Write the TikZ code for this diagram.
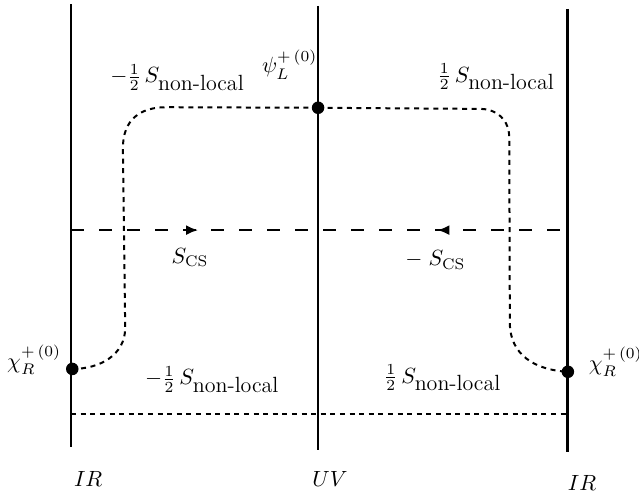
\RequirePackage{fix-cm}
\documentclass[tikz,border=0pt]{standalone}
\usepackage{amsmath,amssymb}
\usepackage{tikz}
\usetikzlibrary{arrows.meta,decorations.markings}

\begin{document}
\begin{tikzpicture}[
        every node/.style={font=\fontsize{11}{13.5}\selectfont},
        brane/.style={line width=1.2pt},
        cslink/.style={line width=1.2pt, dash pattern=on 6.5pt off 7.5pt},
        nllink/.style={line width=1pt, dash pattern=on 2.5pt off 2.3pt},
        field/.style={circle, fill=black, inner sep=0pt, minimum size=0.22cm},
        act/.style={anchor=base, inner sep=0pt}
      ]
        \useasboundingbox (0,0) rectangle (11.23,8.734);
        % Branes: IR -- UV -- IR
        \coordinate (irLtop) at (1.25,8.66);
        \coordinate (irLbot) at (1.25,0.88);
        \coordinate (uvtop) at (5.59,8.63);
        \coordinate (uvbot) at (5.59,0.83);
        \coordinate (irRtop) at (9.97,8.58);
        \coordinate (irRbot) at (9.97,0.79);
        \draw[brane] (irLtop) -- (irLbot);
        \draw[brane] (uvtop) -- (uvbot);
        \draw[brane] (irRtop) -- (irRbot);
        \node (irL) at (1.55,0.32) {$IR$};
        \node (uv) at (5.80,0.31) {$UV$};
        \node (irR) at (10.23,0.25) {$IR$};
        % Zero modes
        \node[field] (psi) at (5.59,6.84) {};
        \node[field] (chiL) at (1.27,2.25) {};
        \node[field] (chiR) at (9.98,2.20) {};
        \node (psilab) at (5.09,7.60) {$\psi_L^{+\,(0)}$};
        \node (chiLlab) at (0.60,2.41) {$\chi_R^{+\,(0)}$};
        \node[anchor=west, inner sep=0pt] (chiRlab) at (10.34,2.37) {$\chi_R^{+\,(0)}$};
        % Chern--Simons line
        \coordinate (csL) at (1.25,4.69);
        \coordinate (csR) at (9.97,4.69);
        \draw[cslink, postaction={decorate}, decoration={markings,
              mark=at position 0.256 with {\arrow{Latex[length=6pt,width=5pt]}},
              mark=at position 0.738 with {\arrowreversed{Latex[length=6pt,width=5pt]}}}]
          (csL) -- (csR);
        \node[act] (csleft) at (3.34,4.11) {$S_{\mathrm{CS}}$};
        \node[act] (csright) at (7.65,4.06) {$-\;S_{\mathrm{CS}}$};
        % Non-local links
        \draw[nllink] (psi.center) -- (2.92,6.85)
          .. controls (2.46,6.85) and (2.16,6.63) .. (2.16,6.13)
          -- (2.20,2.97)
          .. controls (2.20,2.50) and (1.76,2.25) .. (chiL.center);
        \draw[nllink] (psi.center) -- (8.44,6.82)
          .. controls (8.73,6.82) and (8.95,6.63) .. (8.95,6.31)
          -- (8.96,3.06)
          .. controls (8.96,2.50) and (9.40,2.23) .. (chiR.center);
        \coordinate (nlL) at (1.25,1.46);
        \coordinate (nlR) at (9.97,1.46);
        \draw[nllink] (nlL) -- (nlR);
        \node[act] (nltl) at (3.12,7.28) {$-\tfrac{1}{2}\,S_{\mbox{non-local}}$};
        \node[act] (nltr) at (8.72,7.29) {$\tfrac{1}{2}\,S_{\mbox{non-local}}$};
        \node[act] (nlbl) at (3.73,1.97) {$-\tfrac{1}{2}\,S_{\mbox{non-local}}$};
        \node[act] (nlbr) at (7.78,2.00) {$\tfrac{1}{2}\,S_{\mbox{non-local}}$};
      \end{tikzpicture}
\end{document}
